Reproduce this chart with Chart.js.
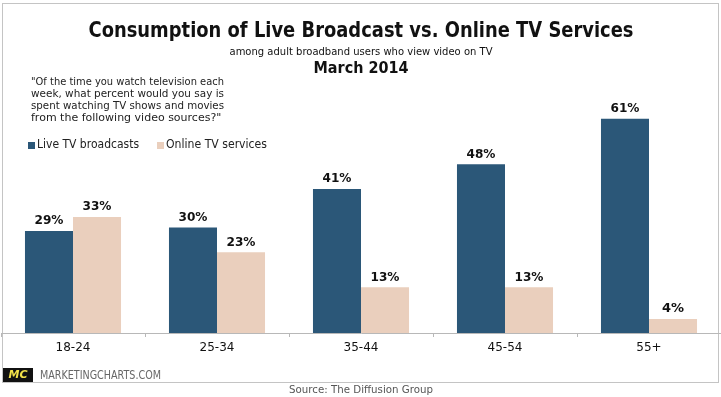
<!DOCTYPE html>
<html>
<head>
<meta charset="utf-8">
<script src="https://cdn.jsdelivr.net/npm/chart.js@4.4.1/dist/chart.umd.min.js"></script>
<style>
  html, body { margin: 0; padding: 0; background: #fff; }
  #wrap { width: 721px; height: 397px; position: relative; }
</style>
</head>
<body>
<div id="wrap"><canvas id="chart" width="721" height="397"></canvas></div>
<script>
const ageGroups = ["18-24", "25-34", "35-44", "45-54", "55+"];
const liveTV = [29, 30, 41, 48, 61];
const onlineTV = [33, 23, 13, 13, 4];
const seriesNames = ["Live TV broadcasts", "Online TV services"];
const question = [
  "\"Of the time you watch television each",
  "week, what percent would you say is",
  "spent watching TV shows and movies",
  "from the following video sources?\""
];

const DARK = "#2b5778";
const LIGHT = "#eacfbd";
const FONT = "'DejaVu Sans', Verdana, sans-serif";

// draw text squeezed to a given width if it runs wider
function fitText(ctx, text, x, y, maxW, align) {
  const w = ctx.measureText(text).width;
  const k = w > maxW ? maxW / w : 1;
  ctx.save();
  ctx.translate(x, y);
  ctx.scale(k, 1);
  ctx.textAlign = align || "left";
  ctx.fillText(text, 0, 0);
  ctx.restore();
}

const decor = {
  id: "decor",
  beforeDraw(chart) {
    const ctx = chart.ctx;
    ctx.save();
    ctx.fillStyle = "#fff";
    ctx.fillRect(0, 0, chart.width, chart.height);
    ctx.strokeStyle = "#c4c4c4";
    ctx.lineWidth = 1;
    ctx.strokeRect(2.5, 3.5, 716, 379);
    ctx.restore();
  },
  afterDraw(chart) {
    const ctx = chart.ctx;
    ctx.save();
    ctx.textBaseline = "middle";

    // titles
    ctx.fillStyle = "#111";
    ctx.font = "bold 21px " + FONT;
    fitText(ctx, "Consumption of Live Broadcast vs. Online TV Services", 361, 32, 545, "center");
    ctx.font = "11px " + FONT;
    fitText(ctx, "among adult broadband users who view video on TV", 361, 52, 263, "center");
    ctx.font = "bold 16px " + FONT;
    fitText(ctx, "March 2014", 361, 69, 95, "center");

    // question
    ctx.fillStyle = "#222";
    ctx.font = "11px " + FONT;
    question.forEach((line, i) => fitText(ctx, line, 31, 82 + i * 12, 193, "left"));

    // legend
    ctx.font = "12px " + FONT;
    ctx.fillStyle = DARK;
    ctx.fillRect(28, 142, 7, 7);
    ctx.fillStyle = "#222";
    fitText(ctx, seriesNames[0], 37, 145, 102, "left");
    ctx.fillStyle = LIGHT;
    ctx.fillRect(157, 142, 7, 7);
    ctx.fillStyle = "#222";
    fitText(ctx, seriesNames[1], 166, 145, 101, "left");

    // value labels
    ctx.font = "bold 13px " + FONT;
    ctx.fillStyle = "#111";
    chart.data.datasets.forEach((ds, di) => {
      chart.getDatasetMeta(di).data.forEach((bar, i) => {
        fitText(ctx, ds.data[i] + "%", bar.x, bar.y - 10, 29, "center");
      });
    });

    // footer
    ctx.fillStyle = "#111";
    ctx.fillRect(3, 368, 30, 14);
    ctx.fillStyle = "#f2e24a";
    ctx.font = "italic bold 11px " + FONT;
    fitText(ctx, "MC", 18, 375, 20, "center");
    ctx.fillStyle = "#666";
    ctx.font = "12px " + FONT;
    fitText(ctx, "MARKETINGCHARTS.COM", 40, 376, 121, "left");
    ctx.font = "11px " + FONT;
    ctx.fillStyle = "#555";
    fitText(ctx, "Source: The Diffusion Group", 361, 390, 144, "center");
    ctx.restore();
  }
};

new Chart(document.getElementById("chart"), {
  type: "bar",
  data: {
    labels: ageGroups,
    datasets: [
      { label: seriesNames[0], data: liveTV, backgroundColor: DARK, borderWidth: 0 },
      { label: seriesNames[1], data: onlineTV, backgroundColor: LIGHT, borderWidth: 0 }
    ]
  },
  options: {
    responsive: false,
    animation: false,
    events: [],
    layout: { padding: { left: 1, right: 0, top: 87, bottom: 0 } },
    datasets: { bar: { categoryPercentage: 0.667, barPercentage: 1 } },
    plugins: { legend: { display: false }, tooltip: { enabled: false }, title: { display: false } },
    scales: {
      x: {
        grid: { drawOnChartArea: false, drawTicks: true, tickLength: 4, color: "#b8b8b8" },
        border: { color: "#b8b8b8", width: 1 },
        ticks: { color: "#111", font: { family: FONT, size: 12 }, padding: 4 },
        afterFit(scale) { scale.height = 64; }
      },
      y: { display: false, min: 0, max: 70 }
    }
  },
  plugins: [decor]
});
</script>
</body>
</html>
